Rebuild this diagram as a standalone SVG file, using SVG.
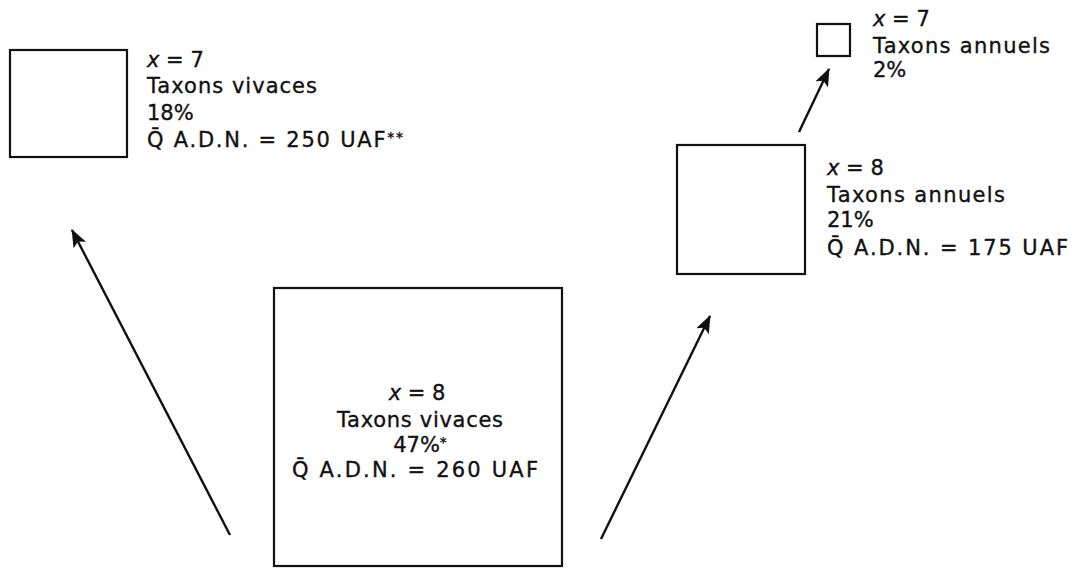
<svg xmlns="http://www.w3.org/2000/svg" width="1081" height="569" viewBox="0 0 1081 569">
<style>
.box{fill:none;stroke:#111;stroke-width:2.2}
.t{font-family:"DejaVu Sans","Liberation Sans",sans-serif;font-size:21px;fill:#111;stroke:#111;stroke-width:0.35}
.c{text-anchor:middle}
.i{font-style:italic}
.sup{font-size:14px}
.arr{stroke:#111;stroke-width:2.4;fill:none;marker-end:url(#ah)}
</style>
<defs>
<marker id="ah" markerUnits="userSpaceOnUse" markerWidth="18" markerHeight="14" refX="17" refY="7" orient="auto">
<path d="M0,0 L18,7 L0,14 L4,7 z" fill="#111"/>
</marker>
</defs>
<rect width="1081" height="569" fill="#fff"/>
<g id="connectors">
<line class="arr" x1="230" y1="535" x2="72" y2="230"/>
<line class="arr" x1="601" y1="539" x2="710" y2="316"/>
<line class="arr" x1="799" y1="132" x2="829" y2="69"/>
</g>
<g id="node-left">
<rect class="box" x="10" y="50" width="117" height="107"/>
<text class="t" x="147" y="67"><tspan class="i">x</tspan> = 7</text>
<text class="t" x="147" y="93" textLength="170">Taxons vivaces</text>
<text class="t" x="147" y="120">18%</text>
<text class="t" x="147" y="147" textLength="256">Q̄ A.D.N. = 250 UAF<tspan class="sup" dy="-5">**</tspan></text>
</g>
<g id="node-top-right">
<rect class="box" x="817" y="24" width="33" height="32"/>
<text class="t" x="873" y="26"><tspan class="i">x</tspan> = 7</text>
<text class="t" x="873" y="53" textLength="177">Taxons annuels</text>
<text class="t" x="873" y="77">2%</text>
</g>
<g id="node-mid-right">
<rect class="box" x="677" y="145" width="128" height="129"/>
<text class="t" x="827" y="175"><tspan class="i">x</tspan> = 8</text>
<text class="t" x="827" y="202" textLength="178">Taxons annuels</text>
<text class="t" x="827" y="227">21%</text>
<text class="t" x="827" y="255" textLength="241">Q̄ A.D.N. = 175 UAF</text>
</g>
<g id="node-center">
<rect class="box" x="274" y="288" width="288" height="278"/>
<text class="t c" x="417" y="400"><tspan class="i">x</tspan> = 8</text>
<text class="t c" x="420" y="427" textLength="166">Taxons vivaces</text>
<text class="t c" x="420" y="452">47%<tspan class="sup" dy="-5">*</tspan></text>
<text class="t c" x="415" y="477" textLength="246">Q̄ A.D.N. = 260 UAF</text>
</g>
</svg>
